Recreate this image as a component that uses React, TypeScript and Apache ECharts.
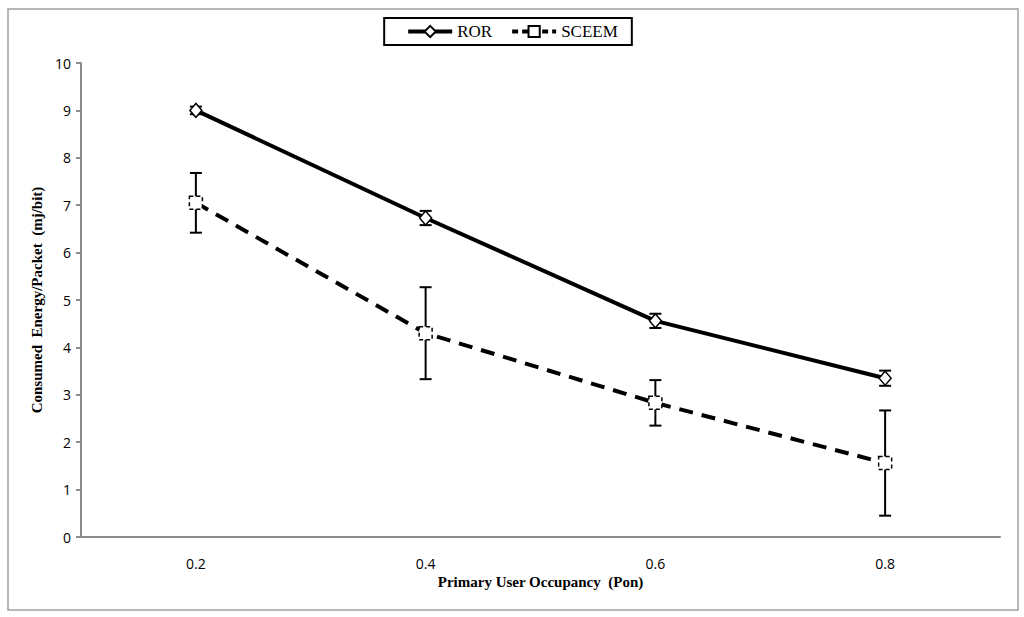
import React, { useEffect, useRef } from "react";
import * as echarts from "echarts";

const categories = ["0.2", "0.4", "0.6", "0.8"];
const rorValues = [9.0, 6.73, 4.56, 3.35];
const rorErrors = [0.08, 0.15, 0.15, 0.16];
const sceemValues = [7.05, 4.3, 2.83, 1.56];
const sceemErrors = [0.63, 0.97, 0.48, 1.11];
const yTicks = [0, 1, 2, 3, 4, 5, 6, 7, 8, 9, 10];

export default function App() {
  const ref = useRef<HTMLDivElement>(null);
  useEffect(() => {
    if (!ref.current) return;
    const chart = echarts.init(ref.current, undefined, { renderer: "svg" });
    const errData = (vals: number[], errs: number[]) =>
      vals.map((v, i) => [i, v - errs[i], v + errs[i]]);
    const errorSeries = (name: string, vals: number[], errs: number[]) => ({
      type: "custom",
      name: name + "-err",
      z: 1,
      silent: true,
      data: errData(vals, errs),
      renderItem: (params: any, api: any) => {
        const lo = api.coord([api.value(0), api.value(1)]);
        const hi = api.coord([api.value(0), api.value(2)]);
        const w = 6;
        const style = { stroke: "#000", lineWidth: 2 };
        return {
          type: "group",
          children: [
            { type: "line", shape: { x1: hi[0], y1: hi[1], x2: lo[0], y2: lo[1] }, style },
            { type: "line", shape: { x1: hi[0] - w, y1: hi[1], x2: hi[0] + w, y2: hi[1] }, style },
            { type: "line", shape: { x1: lo[0] - w, y1: lo[1], x2: lo[0] + w, y2: lo[1] }, style },
          ],
        };
      },
    });
    chart.setOption({
      animation: false,
      backgroundColor: "#fff",
      graphic: [
        {
          type: "rect",
          shape: { x: 8, y: 9, width: 1010, height: 601 },
          style: { fill: "none", stroke: "#a0a0a0", lineWidth: 1.5 },
          silent: true,
          z: -1,
        },
      ],
      legend: {
        top: 18,
        left: "center",
        data: [
          { name: "ROR", lineStyle: { width: 4 } },
          { name: "SCEEM", lineStyle: { width: 4, type: [6, 4] } },
        ],
        borderColor: "#000",
        borderWidth: 2,
        padding: [5, 14, 5, 22],
        itemWidth: 44,
        itemHeight: 14,
        itemGap: 18,
        textStyle: { fontFamily: "Liberation Serif", fontSize: 17, color: "#000" },
      },
      grid: { left: 81, right: 24, top: 63, bottom: 80 },
      xAxis: {
        type: "category",
        data: categories,
        boundaryGap: true,
        name: "Primary User Occupancy  (Pon)",
        nameLocation: "middle",
        nameGap: 37,
        nameTextStyle: {
          fontFamily: "Liberation Serif",
          fontWeight: "bold",
          fontSize: 15,
          color: "#000",
        },
        axisLine: { lineStyle: { color: "#8c8c8c", width: 2 } },
        axisTick: { length: 5, lineStyle: { color: "#8c8c8c", width: 2 } },
        axisLabel: {
          margin: 19,
          fontFamily: "Open Sans",
          fontSize: 14,
          color: "#000",
        },
        splitLine: { show: false },
      },
      yAxis: {
        type: "value",
        min: 0,
        max: 10,
        interval: 1,
        name: "Consumed  Energy/Packet  (mj/bit)",
        nameLocation: "middle",
        nameGap: 36,
        nameTextStyle: {
          fontFamily: "Liberation Serif",
          fontWeight: "bold",
          fontSize: 15,
          color: "#000",
        },
        axisLine: { show: true, lineStyle: { color: "#8c8c8c", width: 2 } },
        axisTick: { show: true, length: 5, lineStyle: { color: "#8c8c8c", width: 2 } },
        axisLabel: {
          margin: 10,
          fontFamily: "Open Sans",
          fontSize: 14,
          color: "#000",
          formatter: (v: number) => (yTicks.includes(v) ? String(v) : ""),
        },
        splitLine: { show: false },
      },
      series: [
        errorSeries("ROR", rorValues, rorErrors),
        errorSeries("SCEEM", sceemValues, sceemErrors),
        {
          type: "line",
          name: "ROR",
          z: 3,
          data: rorValues,
          symbol: "diamond",
          symbolSize: [12, 14],
          lineStyle: { color: "#000", width: 4 },
          itemStyle: { color: "#fff", borderColor: "#000", borderWidth: 1.5 },
        },
        {
          type: "line",
          name: "SCEEM",
          z: 3,
          data: sceemValues,
          symbol: "rect",
          symbolSize: 13,
          lineStyle: { color: "#000", width: 4, type: [14, 9] },
          itemStyle: {
            color: "#fff",
            borderColor: "#000",
            borderWidth: 1.5,
            borderType: [4, 3],
          },
        },
      ],
    });
    return () => chart.dispose();
  }, []);
  return (
    <div
      ref={ref}
      style={{ position: "fixed", left: 0, top: 0, width: 1024, height: 617, background: "#fff" }}
    />
  );
}
